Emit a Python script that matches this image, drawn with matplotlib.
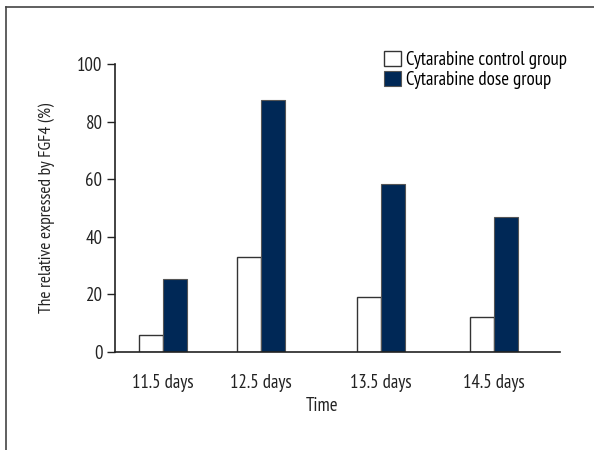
import matplotlib
matplotlib.use("Agg")
import matplotlib.pyplot as plt
from matplotlib.lines import Line2D
from matplotlib.patches import Patch
from matplotlib import font_manager

categories = ["11.5 days", "12.5 days", "13.5 days", "14.5 days"]
control = [6, 33, 19, 12]
dose = [25.3, 87.6, 58.2, 46.9]
series_names = ["Cytarabine control group", "Cytarabine dose group"]
yticks = [0, 20, 40, 60, 80, 100]

# group centre positions (layout, as in the reference)
group_pos = [0, 0.888, 1.976, 3.0]

names = {f.name for f in font_manager.fontManager.ttflist}
cands = ["PT Sans Narrow", "Fira Sans Condensed", "Roboto Condensed", "Encode Sans Condensed",
         "Open Sans Condensed", "Asap Condensed", "Archivo Narrow", "Liberation Sans Narrow",
         "DejaVu Sans"]
fam = next(c for c in cands if c in names)
plt.rcParams['font.family'] = [fam, 'DejaVu Sans']

fig = plt.figure(figsize=(5.94, 4.5), dpi=100)
ax = fig.add_axes([115/594, 1-352/450, (560-115)/594, (352-64)/450])

w = 0.2175
navy = "#002856"
ax.bar([p - w/2 for p in group_pos], control, width=w, color="white",
       edgecolor="#333333", linewidth=1.0, label=series_names[0])
ax.bar([p + w/2 for p in group_pos], dose, width=w, color=navy,
       edgecolor="#555555", linewidth=0.8, label=series_names[1])

ax.set_xlim(-0.435, 3.598)
ax.set_ylim(0, 100)
ax.set_yticks(yticks)
ax.set_yticklabels([str(t) for t in yticks], fontsize=13.5, color="#222222")
ax.set_xticks(group_pos)
ax.set_xticklabels(categories, fontsize=13.5, color="#222222")
ax.tick_params(axis='x', length=0, pad=16)
ax.tick_params(axis='y', length=6, width=1, direction='out', pad=3, color="#222222")
for s in ["top", "right"]:
    ax.spines[s].set_visible(False)
for s in ["left", "bottom"]:
    ax.spines[s].set_linewidth(1.2)
    ax.spines[s].set_color("#222222")

ax.set_ylabel("The relative expressed by FGF4 (%)", fontsize=12.5, color="#222222", labelpad=16)
ax.set_xlabel("Time", fontsize=13.5, color="#222222", labelpad=2)
ax.xaxis.set_label_coords((322-115)/(560-115), -0.155)

handles = [Patch(facecolor="white", edgecolor="#333333", linewidth=1.0),
           Patch(facecolor=navy, edgecolor="#555555", linewidth=0.8)]
ax.legend(handles, series_names, loc="upper left", bbox_to_anchor=(378/594, 1-45/450),
          bbox_transform=fig.transFigure, frameon=False, fontsize=13.5,
          handlelength=0.9, handleheight=0.9, handletextpad=0.3, labelspacing=0.1,
          borderaxespad=0, borderpad=0.3)

# outer frame lines (top and left)
fig.add_artist(Line2D([6/594, 1], [1-7/450, 1-7/450], transform=fig.transFigure,
                      color="#444444", linewidth=1.2))
fig.add_artist(Line2D([6/594, 6/594], [0, 1-7/450], transform=fig.transFigure,
                      color="#444444", linewidth=1.2))

fig.savefig("out.png", dpi=100)
